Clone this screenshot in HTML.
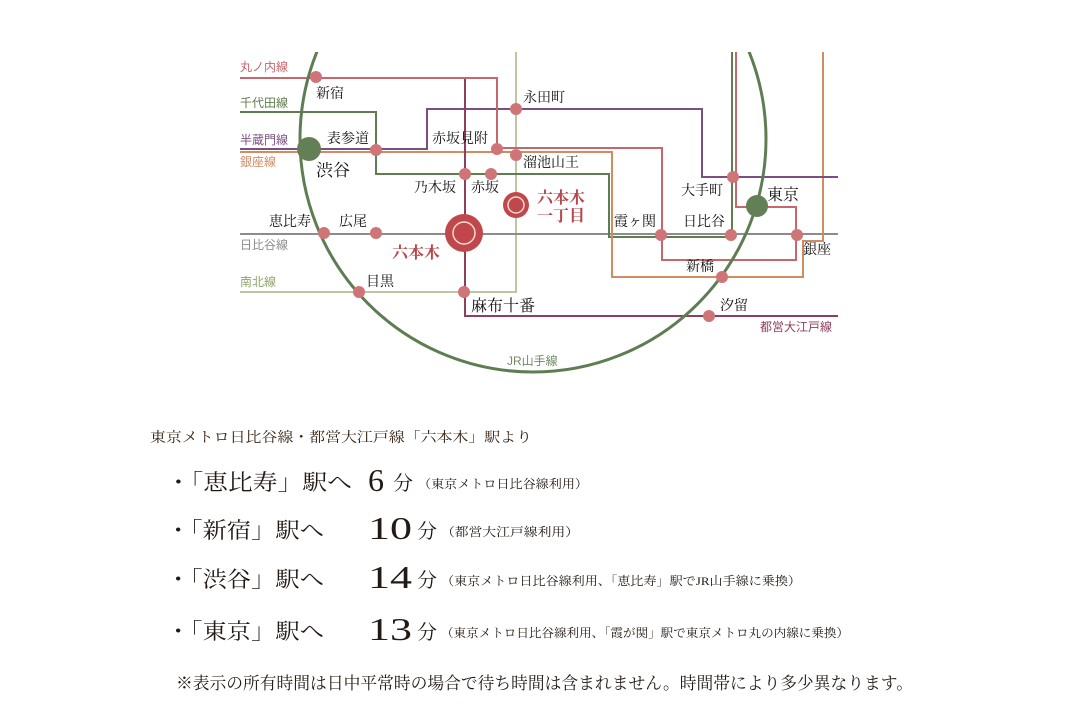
<!DOCTYPE html>
<html><head><meta charset="utf-8"><style>
html,body{margin:0;padding:0;background:#fff;}
svg{display:block;}
.s{font-family:"Liberation Serif","Noto Serif CJK JP","Noto Serif CJK SC",serif;fill:#231a14;}
.g{font-family:"Liberation Sans","Noto Sans CJK JP",sans-serif;font-size:12px;}
</style></head><body>
<svg width="1080" height="720" viewBox="0 0 1080 720" xmlns="http://www.w3.org/2000/svg">
<defs><clipPath id="c"><rect x="0" y="52" width="1080" height="400"/></clipPath></defs>
<g fill="none" stroke-width="2">
<polyline points="240,292 516,292 516,52" stroke="#bcc6a0"/>
<line x1="240" y1="234" x2="838" y2="234" stroke="#8c8c8c"/>
<polyline points="240,112 376,112 376,174 609,174 609,237 732,237 732,52" stroke="#5f7d4f"/>
<polyline points="240,152 612,152 612,277 803,277 803,241 823,241 823,52" stroke="#d08d62"/>
<polyline points="240,149 427,149 427,109 702,109 702,177 838,177" stroke="#7b4f80"/>
<polyline points="240,78 497,78 497,148 662,148 662,260 796,260 796,207 736,207 736,52" stroke="#c8656d"/>
<polyline points="465,79 465,316 838,316" stroke="#8e3f60"/>
</g>
<circle cx="533" cy="139" r="233" fill="none" stroke="#5f7d52" stroke-width="3" clip-path="url(#c)"/>
<g fill="#cf7578">
<circle cx="316" cy="77" r="6"/><circle cx="376" cy="150" r="6"/><circle cx="516" cy="109" r="6"/>
<circle cx="497" cy="149" r="6"/><circle cx="516" cy="155" r="6"/><circle cx="465" cy="174" r="6"/>
<circle cx="491" cy="174" r="6"/><circle cx="324" cy="233" r="6"/><circle cx="376" cy="233" r="6"/>
<circle cx="359" cy="292" r="6"/><circle cx="464" cy="292" r="6"/><circle cx="733" cy="177" r="6"/>
<circle cx="731" cy="235" r="6"/><circle cx="661" cy="235" r="6"/><circle cx="797" cy="235" r="6"/>
<circle cx="722" cy="277" r="6"/><circle cx="709" cy="316" r="6"/>
</g>
<circle cx="309" cy="149" r="12" fill="#637f55"/>
<circle cx="757" cy="206" r="11" fill="#637f55"/>
<circle cx="464" cy="233" r="19" fill="#c0484c"/><circle cx="464" cy="233" r="11" fill="none" stroke="#f3d9d0" stroke-width="1.5"/>
<circle cx="516" cy="205" r="13" fill="#c0484c"/><circle cx="516" cy="205" r="8" fill="none" stroke="#f3d9d0" stroke-width="1.5"/>
<g class="g">
<text x="240" y="71" fill="#c8656d">丸ノ内線</text>
<text x="240" y="107" fill="#5f7d4f">千代田線</text>
<text x="240" y="144" fill="#7b4f80">半蔵門線</text>
<text x="240" y="166" fill="#d08d62">銀座線</text>
<text x="240" y="249" fill="#8c8c8c">日比谷線</text>
<text x="240" y="286" fill="#8fa46a">南北線</text>
<text x="760" y="331" fill="#8e3f60">都営大江戸線</text>
<text x="507" y="365" fill="#6f8a60">JR山手線</text>
</g>
<g class="s" font-size="14" style="fill:#111">
<text x="316" y="98">新宿</text>
<text x="327" y="143">表参道</text>
<text x="316" y="176" font-size="17">渋谷</text>
<text x="432" y="143">赤坂見附</text>
<text x="523" y="102">永田町</text>
<text x="523" y="167">溜池山王</text>
<text x="414" y="192">乃木坂</text>
<text x="471" y="192">赤坂</text>
<text x="269" y="226">恵比寿</text>
<text x="339" y="226">広尾</text>
<text x="366" y="286">目黒</text>
<text x="471" y="311" font-size="16">麻布十番</text>
<text x="681" y="195">大手町</text>
<text x="767" y="200" font-size="16">東京</text>
<text x="614" y="226">霞ヶ関</text>
<text x="683" y="226">日比谷</text>
<text x="803" y="254">銀座</text>
<text x="686" y="271">新橋</text>
<text x="720" y="310">汐留</text>
</g>
<g class="s" font-size="16" font-weight="bold" style="fill:#b8474b">
<text x="392" y="258">六本木</text>
<text x="537" y="203">六本木</text>
<text x="537" y="221">一丁目</text>
</g>
<g class="s">
<text x="150" y="442" font-size="14" textLength="382" lengthAdjust="spacingAndGlyphs" style="fill:#3a2616">東京メトロ日比谷線・都営大江戸線「六本木」駅より</text>
<text x="166" y="490" font-size="22" textLength="186" lengthAdjust="spacingAndGlyphs">・「恵比寿」駅へ</text>
<text x="368" y="491" font-size="32">6</text>
<text x="393" y="490" font-size="20">分</text>
<text x="418" y="488" font-size="12" textLength="170" lengthAdjust="spacingAndGlyphs">（東京メトロ日比谷線利用）</text>
<text x="166" y="538" font-size="22" textLength="158" lengthAdjust="spacingAndGlyphs">・「新宿」駅へ</text>
<text x="368" y="539" font-size="32" textLength="44" lengthAdjust="spacingAndGlyphs">10</text>
<text x="417" y="538" font-size="20">分</text>
<text x="441" y="536" font-size="12" textLength="138" lengthAdjust="spacingAndGlyphs">（都営大江戸線利用）</text>
<text x="166" y="587" font-size="22" textLength="158" lengthAdjust="spacingAndGlyphs">・「渋谷」駅へ</text>
<text x="368" y="588" font-size="32" textLength="44" lengthAdjust="spacingAndGlyphs">14</text>
<text x="417" y="587" font-size="20">分</text>
<text x="441" y="585" font-size="12" textLength="360" lengthAdjust="spacingAndGlyphs">（東京メトロ日比谷線利用、「恵比寿」駅でJR山手線に乗換）</text>
<text x="166" y="639" font-size="22" textLength="158" lengthAdjust="spacingAndGlyphs">・「東京」駅へ</text>
<text x="368" y="640" font-size="32" textLength="44" lengthAdjust="spacingAndGlyphs">13</text>
<text x="417" y="639" font-size="20">分</text>
<text x="441" y="637" font-size="12" textLength="408" lengthAdjust="spacingAndGlyphs">（東京メトロ日比谷線利用、「霞が関」駅で東京メトロ丸の内線に乗換）</text>
<text x="176" y="689" font-size="17" textLength="737" lengthAdjust="spacingAndGlyphs">※表示の所有時間は日中平常時の場合で待ち時間は含まれません。時間帯により多少異なります。</text>
</g>
</svg>
</body></html>
